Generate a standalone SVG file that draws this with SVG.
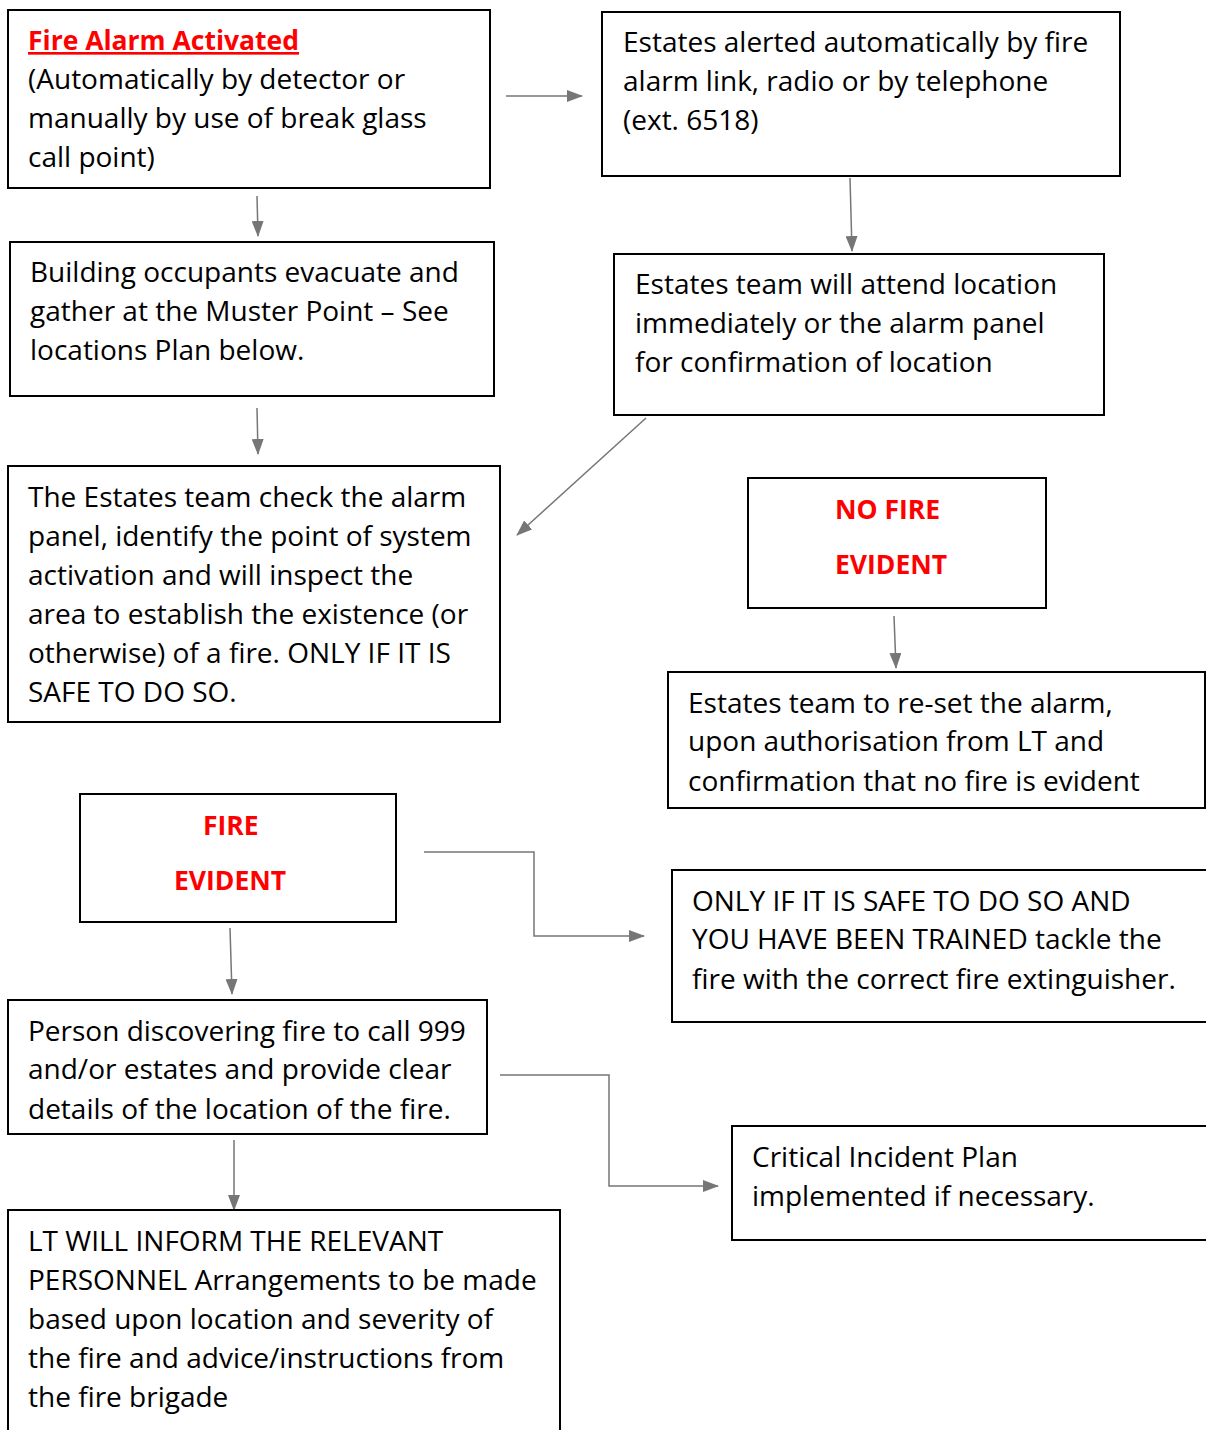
<svg xmlns="http://www.w3.org/2000/svg" width="1206" height="1430" viewBox="0 0 1206 1430">
<style>
.box{fill:#fff;stroke:#000;stroke-width:2}
.t{font-family:"Open Sans","Noto Sans",sans-serif;font-size:28px;fill:#000}
.r{font-family:"Open Sans","Noto Sans",sans-serif;font-size:26.5px;font-weight:bold;fill:#ff0000}
.c{fill:none;stroke:#767676;stroke-width:1.5}
</style>
<defs>
<marker id="ah" markerWidth="16" markerHeight="12" refX="15" refY="6" orient="auto" markerUnits="userSpaceOnUse">
<path d="M0,0 L16,6 L0,12 Z" fill="#767676"/>
</marker>
</defs>
<rect width="1206" height="1430" fill="#fff"/>
<g id="connectors">
<line class="c" x1="506" y1="96" x2="582" y2="96" marker-end="url(#ah)"/>
<line class="c" x1="257" y1="196" x2="258" y2="236" marker-end="url(#ah)"/>
<line class="c" x1="850" y1="178" x2="852" y2="251" marker-end="url(#ah)"/>
<line class="c" x1="257" y1="408" x2="258" y2="454" marker-end="url(#ah)"/>
<line class="c" x1="646" y1="418" x2="517" y2="535" marker-end="url(#ah)"/>
<line class="c" x1="894" y1="616" x2="896" y2="668" marker-end="url(#ah)"/>
<polyline class="c" points="424,852 534,852 534,936 644,936" marker-end="url(#ah)"/>
<line class="c" x1="230" y1="928" x2="232" y2="994" marker-end="url(#ah)"/>
<polyline class="c" points="500,1075 609,1075 609,1186 718,1186" marker-end="url(#ah)"/>
<line class="c" x1="234" y1="1140" x2="234" y2="1210" marker-end="url(#ah)"/>
</g>
<g id="n1">
<rect class="box" x="8" y="10" width="482" height="178"/>
<text class="r" x="28" y="50" text-decoration="underline">Fire Alarm Activated</text>
<text class="t" x="28" y="89">(Automatically by detector or</text>
<text class="t" x="28" y="128">manually by use of break glass</text>
<text class="t" x="28" y="167">call point)</text>
</g>
<g id="n2">
<rect class="box" x="602" y="12" width="518" height="164"/>
<text class="t" x="623" y="52">Estates alerted automatically by fire</text>
<text class="t" x="623" y="91">alarm link, radio or by telephone</text>
<text class="t" x="623" y="130">(ext. 6518)</text>
</g>
<g id="n3">
<rect class="box" x="10" y="242" width="484" height="154"/>
<text class="t" x="30" y="282">Building occupants evacuate and</text>
<text class="t" x="30" y="321">gather at the Muster Point – See</text>
<text class="t" x="30" y="360">locations Plan below.</text>
</g>
<g id="n4">
<rect class="box" x="614" y="254" width="490" height="161"/>
<text class="t" x="635" y="294">Estates team will attend location</text>
<text class="t" x="635" y="333">immediately or the alarm panel</text>
<text class="t" x="635" y="372">for confirmation of location</text>
</g>
<g id="n5">
<rect class="box" x="8" y="466" width="492" height="256"/>
<text class="t" x="28" y="507">The Estates team check the alarm</text>
<text class="t" x="28" y="546">panel, identify the point of system</text>
<text class="t" x="28" y="585">activation and will inspect the</text>
<text class="t" x="28" y="624">area to establish the existence (or</text>
<text class="t" x="28" y="663">otherwise) of a fire. ONLY IF IT IS</text>
<text class="t" x="28" y="702">SAFE TO DO SO.</text>
</g>
<g id="n6">
<rect class="box" x="748" y="478" width="298" height="130"/>
<text class="r" x="835" y="519">NO FIRE</text>
<text class="r" x="835" y="574">EVIDENT</text>
</g>
<g id="n7">
<rect class="box" x="668" y="672" width="537" height="136"/>
<text class="t" x="688" y="713">Estates team to re-set the alarm,</text>
<text class="t" x="688" y="751">upon authorisation from LT and</text>
<text class="t" x="688" y="791">confirmation that no fire is evident</text>
</g>
<g id="n8">
<rect class="box" x="80" y="794" width="316" height="128"/>
<text class="r" x="203" y="835">FIRE</text>
<text class="r" x="174" y="890">EVIDENT</text>
</g>
<g id="n9">
<rect class="box" x="672" y="870" width="540" height="152"/>
<text class="t" x="692" y="911">ONLY IF IT IS SAFE TO DO SO AND</text>
<text class="t" x="692" y="949">YOU HAVE BEEN TRAINED tackle the</text>
<text class="t" x="692" y="989">fire with the correct fire extinguisher.</text>
</g>
<g id="n10">
<rect class="box" x="8" y="1000" width="479" height="134"/>
<text class="t" x="28" y="1041">Person discovering fire to call 999</text>
<text class="t" x="28" y="1079">and/or estates and provide clear</text>
<text class="t" x="28" y="1119">details of the location of the fire.</text>
</g>
<g id="n11">
<rect class="box" x="732" y="1126" width="480" height="114"/>
<text class="t" x="752" y="1167">Critical Incident Plan</text>
<text class="t" x="752" y="1206">implemented if necessary.</text>
</g>
<g id="n12">
<rect class="box" x="8" y="1210" width="552" height="240"/>
<text class="t" x="28" y="1251">LT WILL INFORM THE RELEVANT</text>
<text class="t" x="28" y="1290">PERSONNEL Arrangements to be made</text>
<text class="t" x="28" y="1329">based upon location and severity of</text>
<text class="t" x="28" y="1368">the fire and advice/instructions from</text>
<text class="t" x="28" y="1407">the fire brigade</text>
</g>
</svg>
